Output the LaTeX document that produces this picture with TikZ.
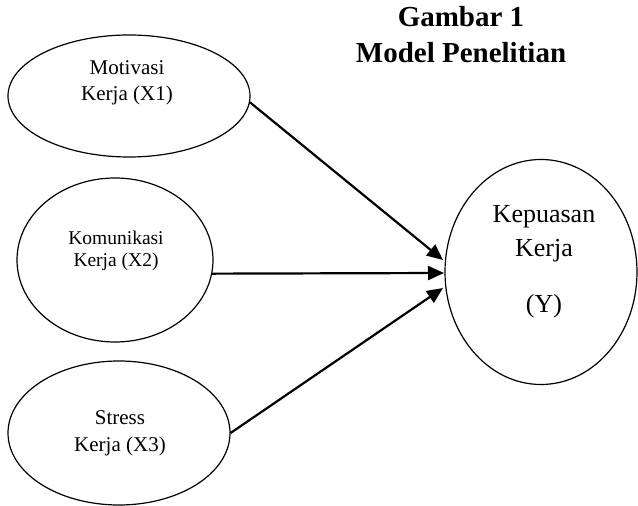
\documentclass[tikz,border=0pt]{standalone}
\usepackage{fontspec}
\setmainfont{Liberation Serif}
\usepackage{tikz}
\usetikzlibrary{positioning,arrows.meta,shapes.geometric}

\begin{document}
\begin{tikzpicture}[x=1pt,y=1pt,
	var/.style={ellipse,draw=black,line width=1.2pt,inner sep=0pt},
	lbl/.style={align=center,anchor=base,inner sep=0pt},
	arr/.style={line width=2.2pt,-{Triangle[length=16pt,width=14pt]}}]
		
		\useasboundingbox (0,0) rectangle (638,506);

		%title
		\node[lbl,font=\bfseries\fontsize{29}{36}\selectfont] (title) at (461,443) {Gambar 1\\Model Penelitian};

		%left nodes
		\node[var,minimum width=242pt,minimum height=122pt] (x1) at (129,410) {};
		\node[var,minimum width=196pt,minimum height=164pt] (x2) at (115,246) {};
		\node[var,minimum width=222pt,minimum height=144pt] (x3) at (119,73) {};

		%right node
		\node[var,minimum width=192pt,minimum height=225pt] (y) at (541,234) {};

		%texts
		\node[lbl,font=\fontsize{21}{26}\selectfont] (t1) at (127,405) {Motivasi\\Kerja (X1)};
		\node[lbl,font=\fontsize{19.5}{22}\selectfont] (t2) at (116,239) {Komunikasi\\Kerja (X2)};
		\node[lbl,font=\fontsize{21}{27}\selectfont] (t3) at (120,54) {Stress\\Kerja (X3)};
		\node[lbl,font=\fontsize{26}{34}\selectfont] (ty) at (544,193) {Kepuasan\\Kerja\\[22pt](Y)};

		%arrow ends
		\coordinate (e1) at (443,246);
		\coordinate (e2) at (444,233);
		\coordinate (e3) at (443,218);

		%edges
		\draw[arr] (x1.-3) -- (e1);
		\draw[arr] (x2.-8) -- (e2);
		\draw[arr] (x3.east) -- (e3);

\end{tikzpicture}
\end{document}
